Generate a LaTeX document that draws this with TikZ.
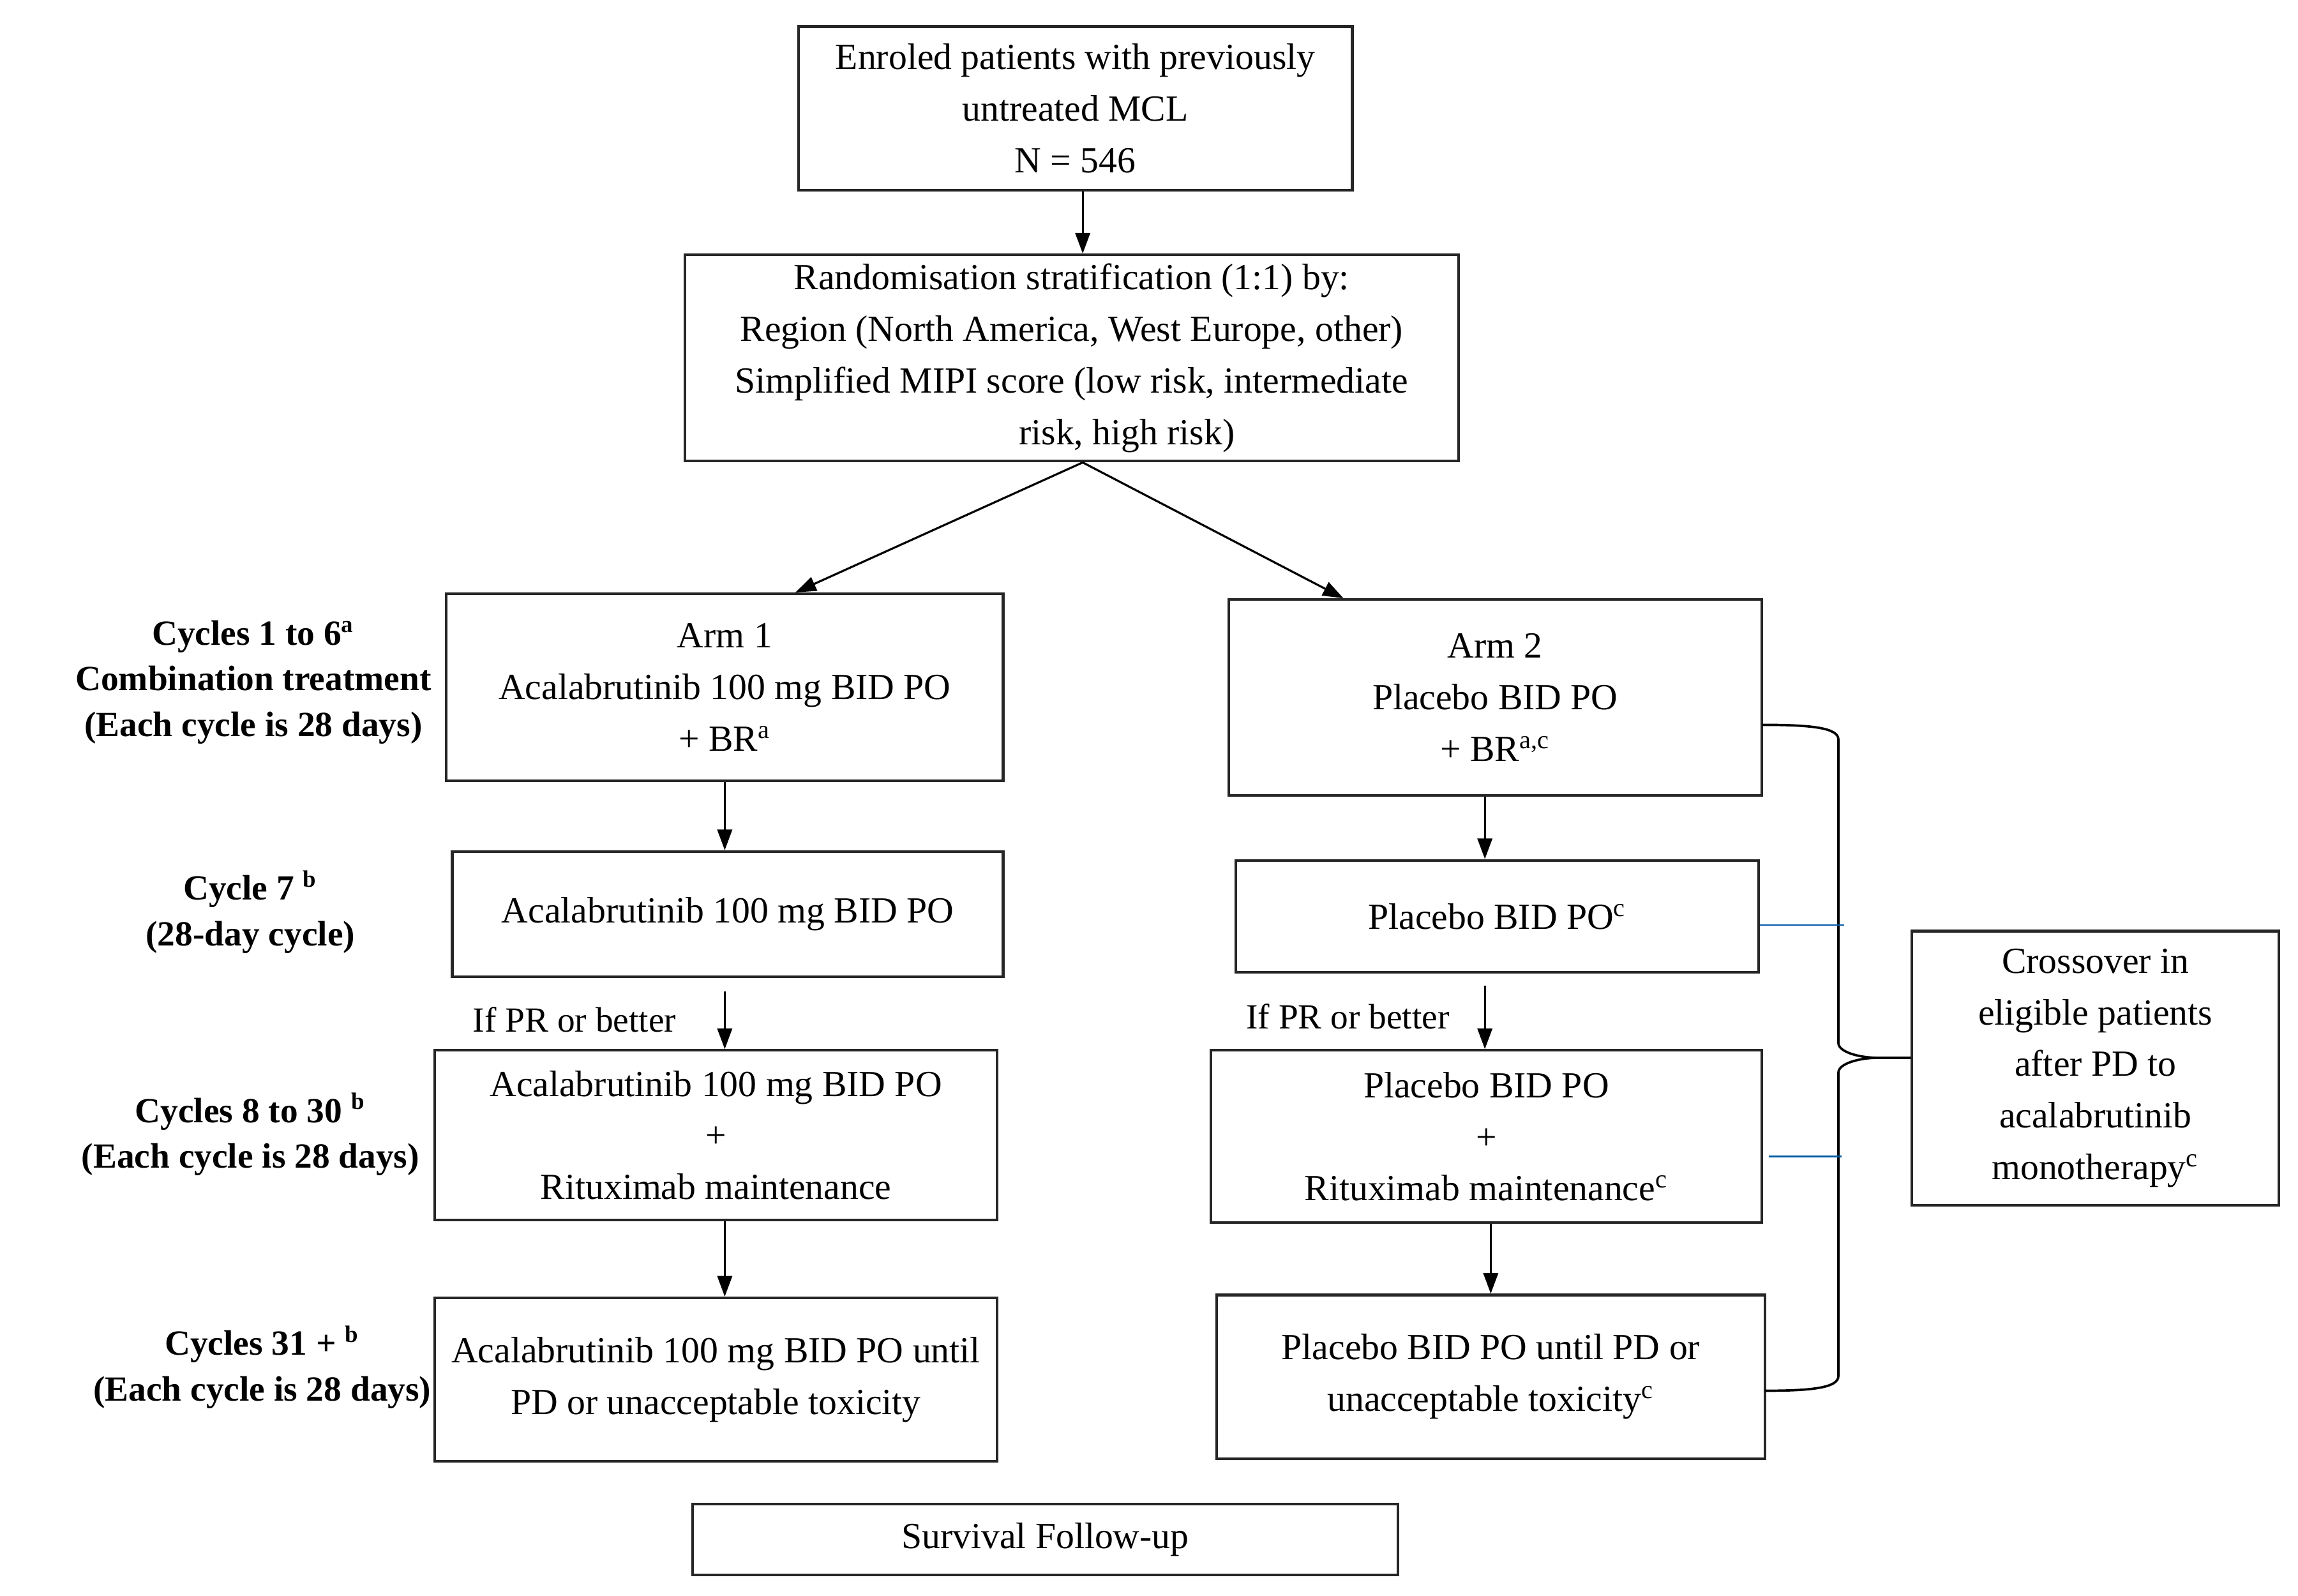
\documentclass[tikz,border=0pt]{standalone}
\usepackage{fontspec}
\setmainfont{Liberation Serif}
\usetikzlibrary{arrows.meta}
\begin{document}
\begin{tikzpicture}[x=0.5pt,y=-0.5pt,
  box/.style={draw=black!85,line width=0.9pt,align=center,inner sep=2pt,font=\fontsize{12.5}{17.5}\selectfont},
  lab/.style={align=center,font=\bfseries\fontsize{12}{15.5}\selectfont},
  small/.style={font=\fontsize{12}{15}\selectfont},
  arr/.style={-{Triangle[length=7pt,width=5pt]},line width=0.7pt},
  teal/.style={draw=teal!70!blue,line width=0.5pt}]
\useasboundingbox (0,0) rectangle (1560,1083);
\node[box,minimum width=188pt,minimum height=55.5pt] (B1) at (730,73.5) {Enroled patients with previously\\untreated MCL\\N = 546};
\node[box,minimum width=262.5pt,minimum height=70pt] (B2) at (727.5,243) {Randomisation stratification (1:1) by:\\Region (North America, West Europe, other)\\Simplified MIPI score (low risk, intermediate\\\hspace*{3em}risk, high risk)};
\node[box,minimum width=189pt,minimum height=63.5pt] (A1) at (492,466.5) {Arm 1\\Acalabrutinib 100 mg BID PO\\+ BR\textsuperscript{a}};
\node[box,minimum width=181pt,minimum height=66.5pt] (A2) at (1015,473.5) {Arm 2\\Placebo BID PO\\+ BR\textsuperscript{a,c}};
\node[box,minimum width=187pt,minimum height=42.5pt] (L7) at (494,620.5) {Acalabrutinib 100 mg BID PO};
\node[box,minimum width=177.5pt,minimum height=38pt] (R7) at (1016.5,622) {Placebo BID PO\textsuperscript{c}};
\node[box,minimum width=191pt,minimum height=57.5pt] (L8) at (486,770.5) {Acalabrutinib 100 mg BID PO\\+\\Rituximab maintenance};
\node[box,minimum width=187pt,minimum height=58.5pt] (R8) at (1009,771.5) {Placebo BID PO\\+\\Rituximab maintenance\textsuperscript{c}};
\node[box,minimum width=191pt,minimum height=55.5pt] (L31) at (486,936.5) {Acalabrutinib 100 mg BID PO until\\PD or unacceptable toxicity};
\node[box,minimum width=186pt,minimum height=55.5pt] (R31) at (1012,934.5) {Placebo BID PO until PD or\\unacceptable toxicity\textsuperscript{c}};
\node[box,minimum width=239.5pt,minimum height=24pt] (SV) at (709.5,1045) {Survival Follow-up};
\node[box,minimum width=124.5pt,minimum height=93pt] (CR) at (1422.5,725) {Crossover in\\eligible patients\\after PD to\\acalabrutinib\\monotherapy\textsuperscript{c}};
% left labels
\node[lab] (T1) at (172,463) {Cycles 1 to 6\textsuperscript{a}\\Combination treatment\\(Each cycle is 28 days)};
\node[lab] (T2) at (170,619) {Cycle 7 \textsuperscript{b}\\(28-day cycle)};
\node[lab] (T3) at (170,770) {Cycles 8 to 30 \textsuperscript{b}\\(Each cycle is 28 days)};
\node[lab] (T4) at (178,928) {Cycles 31 + \textsuperscript{b}\\(Each cycle is 28 days)};
\node[small] (P1) at (390,692) {If PR or better};
\node[small] (P2) at (915,690) {If PR or better};
% arrows
\draw[arr] (B1.south -| 735,0) -- (B2.north -| 735,0);
\draw[arr] (B2.south -| 735,0) -- ([xshift=24pt]A1.north);
\draw[arr] (B2.south -| 735,0) -- ([xshift=-51.5pt]A2.north);
\draw[arr] (A1.south -| 492,0) -- (L7.north -| 492,0);
\draw[arr] ([yshift=-4.5pt]L7.south -| 492,0) -- (L8.north -| 492,0);
\draw[arr] (L8.south -| 492,0) -- (L31.north -| 492,0);
\draw[arr] (A2.south -| 1008,0) -- (R7.north -| 1008,0);
\draw[arr] ([yshift=-4pt]R7.south -| 1008,0) -- (R8.north -| 1008,0);
\draw[arr] (R8.south -| 1012,0) -- (R31.north -| 1012,0);
% brace
\coordinate (BT) at (1196,492);
\coordinate (BB) at (1198,944);
\draw[line width=0.8pt] (BT) .. controls (1230,492) and (1248,494) .. (1248,502) -- (1248,708)
  .. controls (1248,714) and (1262,718) .. (1275,718) -- (CR.west |- 0,718);
\draw[line width=0.8pt] (BB) .. controls (1230,944) and (1248,942) .. (1248,934) -- (1248,728)
  .. controls (1248,722) and (1262,718) .. (1275,718);
\draw[teal] (R7.east |- 0,628) -- (1252,628);
\draw[teal] ([xshift=2pt]R8.east |- 0,785) -- (1250,785);
\end{tikzpicture}
\end{document}
